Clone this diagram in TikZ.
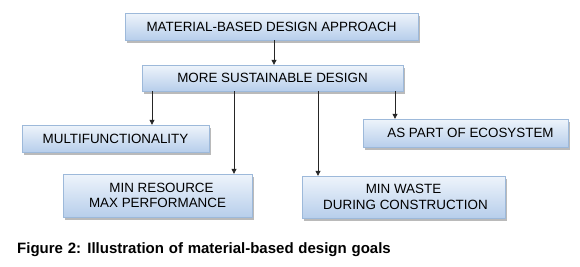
\documentclass[tikz,border=0pt]{standalone}
\usepackage{fontspec}
\setmainfont{Liberation Sans}
\usetikzlibrary{arrows.meta,shadows}

\definecolor{boxline}{HTML}{9DB9DA}
\definecolor{boxtop}{HTML}{EEF4FB}
\definecolor{boxbottom}{HTML}{B7CEEB}

\begin{document}
\begin{tikzpicture}[
    x=1pt, y=-1pt,
    goalbox/.style={draw=boxline, rectangle, top color=boxtop, bottom color=boxbottom,
        drop shadow={shadow xshift=2pt, shadow yshift=-2.5pt, fill=black!45, opacity=0.6},
        align=center, inner sep=0pt, font=\fontsize{13.4}{15.5}\selectfont},
    link/.style={-{Triangle[length=5pt,width=5pt]}, line width=0.8pt, black!85}
]
\useasboundingbox (0,0) rectangle (580,266);

% Top level
\node[goalbox, minimum width=293pt, minimum height=27pt] (approach) at (271.5,26.5) {MATERIAL-BASED DESIGN APPROACH};
\node[goalbox, minimum width=261pt, minimum height=26pt] (sustain) at (272.5,78) {MORE SUSTAINABLE DESIGN};

% Goals
\node[goalbox, minimum width=187pt, minimum height=27pt] (multi) at (115.5,138.5) {MULTIFUNCTIONALITY};
\node[goalbox, minimum width=205pt, minimum height=28pt] (eco) at (465.5,133) {\hspace{10pt}AS PART OF ECOSYSTEM};
\node[goalbox, minimum width=189pt, minimum height=43pt] (resource) at (157.5,195.5) {\hspace{8pt}MIN RESOURCE\\MAX PERFORMANCE};
\node[goalbox, minimum width=203pt, minimum height=42pt] (waste) at (403.5,197) {MIN WASTE\\\hspace{4pt}DURING CONSTRUCTION};

% Connectors
\draw[link] (approach.south -| 274,0) -- (sustain.north -| 274,0);
\draw[link] (sustain.south -| 152,0) -- (multi.north -| 152,0);
\draw[link] (sustain.south -| 234,0) -- (resource.north -| 234,0);
\draw[link] (sustain.south -| 318,0) -- (waste.north -| 318,0);
\draw[link] (sustain.south -| 395,0) -- (eco.north -| 395,0);

% Caption
\node[anchor=base west, inner sep=0pt, font=\bfseries\fontsize{15}{17}\selectfont] (caption) at (17,253)
    {\spaceskip=4.8pt Figure 2: Illustration of material-based design goals};
\end{tikzpicture}
\end{document}
